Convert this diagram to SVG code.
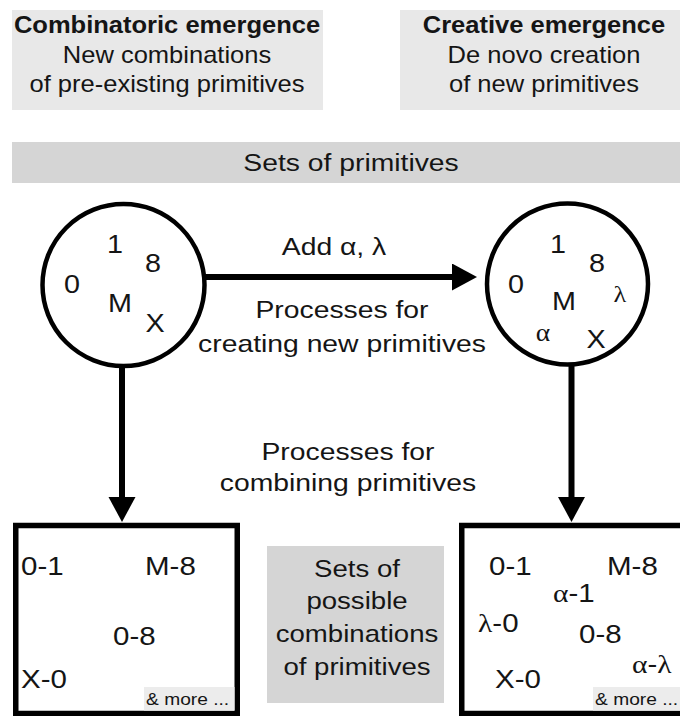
<svg xmlns="http://www.w3.org/2000/svg" width="680" height="716" viewBox="0 0 680 716">
  <style>
    .t{font-family:"Liberation Sans",Arial,sans-serif;fill:#151515}
    .c{text-anchor:middle}
    .b{font-weight:bold}
    .hd{font-size:23px}
    .lb{font-size:24px}
    .it{font-size:25px}
    .sm{font-size:17px}
    .gr{font-family:"Liberation Serif","Times New Roman",serif}
    .pale{fill:#e8e8e8}
    .mid{fill:#d5d5d5}
    .more{fill:#ececec}
    .ring{fill:#fff;stroke:#000;stroke-width:4.5}
    .box{fill:#fff;stroke:#000;stroke-width:5.5}
    .edge{stroke:#000;stroke-width:6;fill:none}
  </style>
  <defs>
    <marker id="head" markerUnits="userSpaceOnUse" markerWidth="26" markerHeight="28" refX="0" refY="13.5" orient="auto">
      <path d="M0,0 L25,13.5 L0,27 z" fill="#000"/>
    </marker>
  </defs>

  <!-- column headings -->
  <g id="combinatoric-heading">
    <rect class="pale" x="12" y="10" width="311" height="100"/>
    <text class="t c b hd" transform="translate(167 33) scale(1.11 1)">Combinatoric emergence</text>
    <text class="t c hd" transform="translate(167 63) scale(1.11 1)">New combinations</text>
    <text class="t c hd" transform="translate(167 92) scale(1.11 1)">of pre-existing primitives</text>
  </g>
  <g id="creative-heading">
    <rect class="pale" x="400" y="10" width="280" height="100"/>
    <text class="t c b hd" transform="translate(544 33) scale(1.11 1)">Creative emergence</text>
    <text class="t c hd" transform="translate(544 63) scale(1.11 1)">De novo creation</text>
    <text class="t c hd" transform="translate(544 92) scale(1.11 1)">of new primitives</text>
  </g>

  <g id="primitives-band">
    <rect class="mid" x="12" y="142" width="668" height="41"/>
    <text class="t c lb" transform="translate(351 171) scale(1.18 1)">Sets of primitives</text>
  </g>

  <!-- connectors -->
  <g id="connectors">
    <line class="edge" x1="205" y1="277" x2="452" y2="277" marker-end="url(#head)"/>
    <line class="edge" x1="122" y1="367" x2="122" y2="497" marker-end="url(#head)"/>
    <line class="edge" x1="571.5" y1="366" x2="571.5" y2="497" marker-end="url(#head)"/>
    <text class="t c lb" transform="translate(334 255) scale(1.18 1)">Add α, λ</text>
    <text class="t c lb" transform="translate(342 318) scale(1.18 1)">Processes for</text>
    <text class="t c lb" transform="translate(342 352) scale(1.18 1)">creating new primitives</text>
    <text class="t c lb" transform="translate(348 460) scale(1.18 1)">Processes for</text>
    <text class="t c lb" transform="translate(348 491) scale(1.18 1)">combining primitives</text>
  </g>

  <!-- primitive sets -->
  <g id="set-existing">
    <circle class="ring" cx="123.5" cy="285" r="81"/>
    <text class="t c it" transform="translate(115 253) scale(1.15 1)">1</text>
    <text class="t c it" transform="translate(153 272) scale(1.15 1)">8</text>
    <text class="t c it" transform="translate(72 293) scale(1.15 1)">0</text>
    <text class="t c it" transform="translate(120 312) scale(1.15 1)">M</text>
    <text class="t c it" transform="translate(155 332) scale(1.15 1)">X</text>
  </g>
  <g id="set-extended">
    <circle class="ring" cx="567.5" cy="284" r="80.5"/>
    <text class="t c it" transform="translate(558 253) scale(1.15 1)">1</text>
    <text class="t c it" transform="translate(597 272) scale(1.15 1)">8</text>
    <text class="t c it" transform="translate(516 293) scale(1.15 1)">0</text>
    <text class="t c it" transform="translate(564 310) scale(1.15 1)">M</text>
    <text class="t c gr" font-size="24" transform="translate(620 302) scale(1.1 1)">λ</text>
    <text class="t c gr" font-size="25" transform="translate(543 341) scale(1.1 1)">α</text>
    <text class="t c it" transform="translate(596 348) scale(1.15 1)">X</text>
  </g>

  <!-- combination sets -->
  <g id="combos-existing">
    <rect class="box" x="15.75" y="525.5" width="221.5" height="188"/>
    <text class="t it" transform="translate(21 575) scale(1.18 1)">0-1</text>
    <text class="t it" transform="translate(145 575) scale(1.18 1)">M-8</text>
    <text class="t it" transform="translate(113 645) scale(1.18 1)">0-8</text>
    <text class="t it" transform="translate(21 688) scale(1.18 1)">X-0</text>
    <rect class="more" x="144" y="687" width="90.5" height="23.5"/>
    <text class="t sm" transform="translate(146 705) scale(1.13 1)">&amp; more ...</text>
  </g>

  <g id="combos-label">
    <rect class="mid" x="267" y="546" width="177" height="157"/>
    <text class="t c lb" transform="translate(357 577) scale(1.15 1)">Sets of</text>
    <text class="t c lb" transform="translate(357 609) scale(1.15 1)">possible</text>
    <text class="t c lb" transform="translate(357 642) scale(1.15 1)">combinations</text>
    <text class="t c lb" transform="translate(357 675) scale(1.15 1)">of primitives</text>
  </g>

  <g id="combos-extended">
    <rect class="box" x="461.75" y="525.5" width="240" height="188"/>
    <text class="t it" transform="translate(489 575) scale(1.18 1)">0-1</text>
    <text class="t it" transform="translate(607 575) scale(1.18 1)">M-8</text>
    <text class="t it" transform="translate(553 602) scale(1.18 1)"><tspan class="gr" font-size="25">α</tspan>-1</text>
    <text class="t it" transform="translate(478 632) scale(1.18 1)"><tspan class="gr" font-size="25">λ</tspan>-0</text>
    <text class="t it" transform="translate(579 643) scale(1.18 1)">0-8</text>
    <text class="t it" transform="translate(632 673) scale(1.18 1)"><tspan class="gr" font-size="25">α</tspan>-<tspan class="gr" font-size="25">λ</tspan></text>
    <text class="t it" transform="translate(495 688) scale(1.18 1)">X-0</text>
    <rect class="more" x="593" y="687" width="87" height="23.5"/>
    <text class="t sm" transform="translate(595 705) scale(1.13 1)">&amp; more ...</text>
  </g>
</svg>
